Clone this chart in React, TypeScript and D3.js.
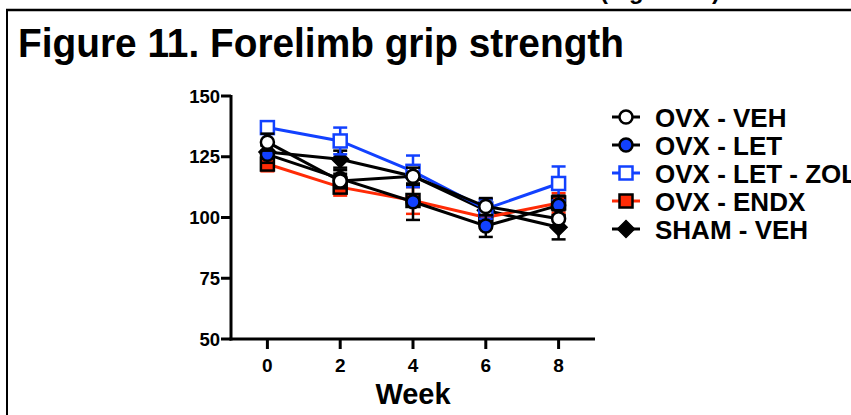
import React from 'react';
import * as d3 from 'd3';

// weeks on the x axis
const WEEKS = [0, 2, 4, 6, 8];
const X_TICKS = [0, 2, 4, 6, 8];
const Y_TICKS = [50, 75, 100, 125, 150];

// group means (grip strength)
const VEH_MEAN = [131, 115, 117, 104.5, 99.5];
const LET_MEAN = [126, 116, 106.5, 96.5, 105];
const ZOL_MEAN = [137, 131.5, 119, 103.5, 114];
const ENDX_MEAN = [122, 112.5, 107, 100, 106];
const SHAM_MEAN = [127, 124, 117, 103, 96];

// SEM
const VEH_ERR = [3.5, 3, 3.5, 3.5, 3.5];
const LET_ERR = [3.5, 3.5, 7.5, 4.5, 4];
const ZOL_ERR = [2.5, 5.5, 6.5, 4, 7];
const ENDX_ERR = [3, 3.5, 5.5, 3, 4];
const SHAM_ERR = [3, 3.5, 4, 4.5, 5];

const NAMES = ['OVX - VEH', 'OVX - LET', 'OVX - LET - ZOL', 'OVX - ENDX', 'SHAM - VEH'];

const BLUE = '#1241ff';
const RED = '#ff2b06';

const series = [
  { name: NAMES[0], mean: VEH_MEAN, err: VEH_ERR, line: '#000', fill: '#fff', stroke: '#000', shape: 'circle' },
  { name: NAMES[1], mean: LET_MEAN, err: LET_ERR, line: '#000', fill: BLUE, stroke: '#000', shape: 'circle' },
  { name: NAMES[2], mean: ZOL_MEAN, err: ZOL_ERR, line: BLUE, fill: '#fff', stroke: BLUE, shape: 'square' },
  { name: NAMES[3], mean: ENDX_MEAN, err: ENDX_ERR, line: RED, fill: RED, stroke: '#000', shape: 'square' },
  { name: NAMES[4], mean: SHAM_MEAN, err: SHAM_ERR, line: '#000', fill: '#000', stroke: '#000', shape: 'diamond' },
];

const FONT = '"Liberation Sans", Arial, Helvetica, sans-serif';

function Marker({ shape, x, y, fill, stroke }: any) {
  if (shape === 'circle') {
    return <circle cx={x} cy={y} r={6.5} fill={fill} stroke={stroke} strokeWidth={2.5} />;
  }
  if (shape === 'square') {
    return <rect x={x - 6.5} y={y - 6.5} width={13} height={13} fill={fill} stroke={stroke} strokeWidth={2.5} />;
  }
  const s = 8.5;
  return (
    <path d={`M${x},${y - s}L${x + s},${y}L${x},${y + s}L${x - s},${y}Z`} fill={fill} stroke={stroke} strokeWidth={1.5} />
  );
}

export default function App() {
  const W = 851;
  const H = 415;
  const x = d3.scaleLinear().domain([-1, 9]).range([231, 595]);
  const y = d3.scaleLinear().domain([50, 150]).range([339, 96]);

  const line = d3
    .line<number>()
    .x((_, i) => x(WEEKS[i]))
    .y((d) => y(d));

  // later groups underneath, first group on top
  const drawOrder = [...series].reverse();

  return (
    <svg
      width={W}
      height={H}
      style={{ position: 'absolute', left: 0, top: 0, background: '#fff' }}
      fontFamily={FONT}
      fontWeight="bold"
    >
      <rect x={0} y={0} width={W} height={H} fill="#fff" />

      {/* frame and caption cut off at the very top, as in the source */}
      <text x={600} y={-1} fontSize={24} textLength={120} lengthAdjust="spacingAndGlyphs">
        (Figure 11)
      </text>
      <line x1={6} y1={10} x2={W} y2={10} stroke="#000" strokeWidth={2.5} />
      <line x1={7} y1={10} x2={7} y2={H} stroke="#000" strokeWidth={2} />

      <text x={18} y={57} fontSize={40} textLength={606} lengthAdjust="spacingAndGlyphs">
        Figure 11. Forelimb grip strength
      </text>

      {/* axes */}
      <line x1={x(-1)} y1={y(150) - 1} x2={x(-1)} y2={y(50) + 1.5} stroke="#000" strokeWidth={3} />
      <line x1={x(-1) - 1.5} y1={y(50)} x2={x(9)} y2={y(50)} stroke="#000" strokeWidth={3} />
      {Y_TICKS.map((t) => (
        <g key={`y${t}`}>
          <line x1={x(-1) - 10} y1={y(t)} x2={x(-1)} y2={y(t)} stroke="#000" strokeWidth={3} />
          <text x={x(-1) - 11} y={y(t) + 6.5} fontSize={18.5} textAnchor="end">
            {t}
          </text>
        </g>
      ))}
      {X_TICKS.map((t) => (
        <g key={`x${t}`}>
          <line x1={x(t)} y1={y(50)} x2={x(t)} y2={y(50) + 10} stroke="#000" strokeWidth={3} />
          <text x={x(t)} y={y(50) + 33} fontSize={19} textAnchor="middle">
            {t}
          </text>
        </g>
      ))}
      <text x={x(4)} y={404} fontSize={29} textAnchor="middle">
        Week
      </text>

      {/* series */}
      {drawOrder.map((s) => (
        <g key={s.name}>
          <path d={line(s.mean) || ''} fill="none" stroke={s.line} strokeWidth={3} />
          {s.mean.map((m, i) => {
            const cx = x(WEEKS[i]);
            const lo = y(m - s.err[i]);
            const hi = y(m + s.err[i]);
            return (
              <g key={i} stroke={s.line} strokeWidth={2.5}>
                <line x1={cx} y1={lo} x2={cx} y2={hi} />
                <line x1={cx - 7} y1={lo} x2={cx + 7} y2={lo} />
                <line x1={cx - 7} y1={hi} x2={cx + 7} y2={hi} />
              </g>
            );
          })}
          {s.mean.map((m, i) => (
            <Marker key={`m${i}`} shape={s.shape} x={x(WEEKS[i])} y={y(m)} fill={s.fill} stroke={s.stroke} />
          ))}
        </g>
      ))}

      {/* legend */}
      {series.map((s, i) => {
        const cy = 117 + i * 28;
        return (
          <g key={`l${s.name}`}>
            <line x1={612} y1={cy} x2={640} y2={cy} stroke={s.line} strokeWidth={3} />
            <Marker shape={s.shape} x={626} y={cy} fill={s.fill} stroke={s.stroke} />
            <text x={655} y={cy + 9.5} fontSize={26}>
              {s.name}
            </text>
          </g>
        );
      })}
    </svg>
  );
}
